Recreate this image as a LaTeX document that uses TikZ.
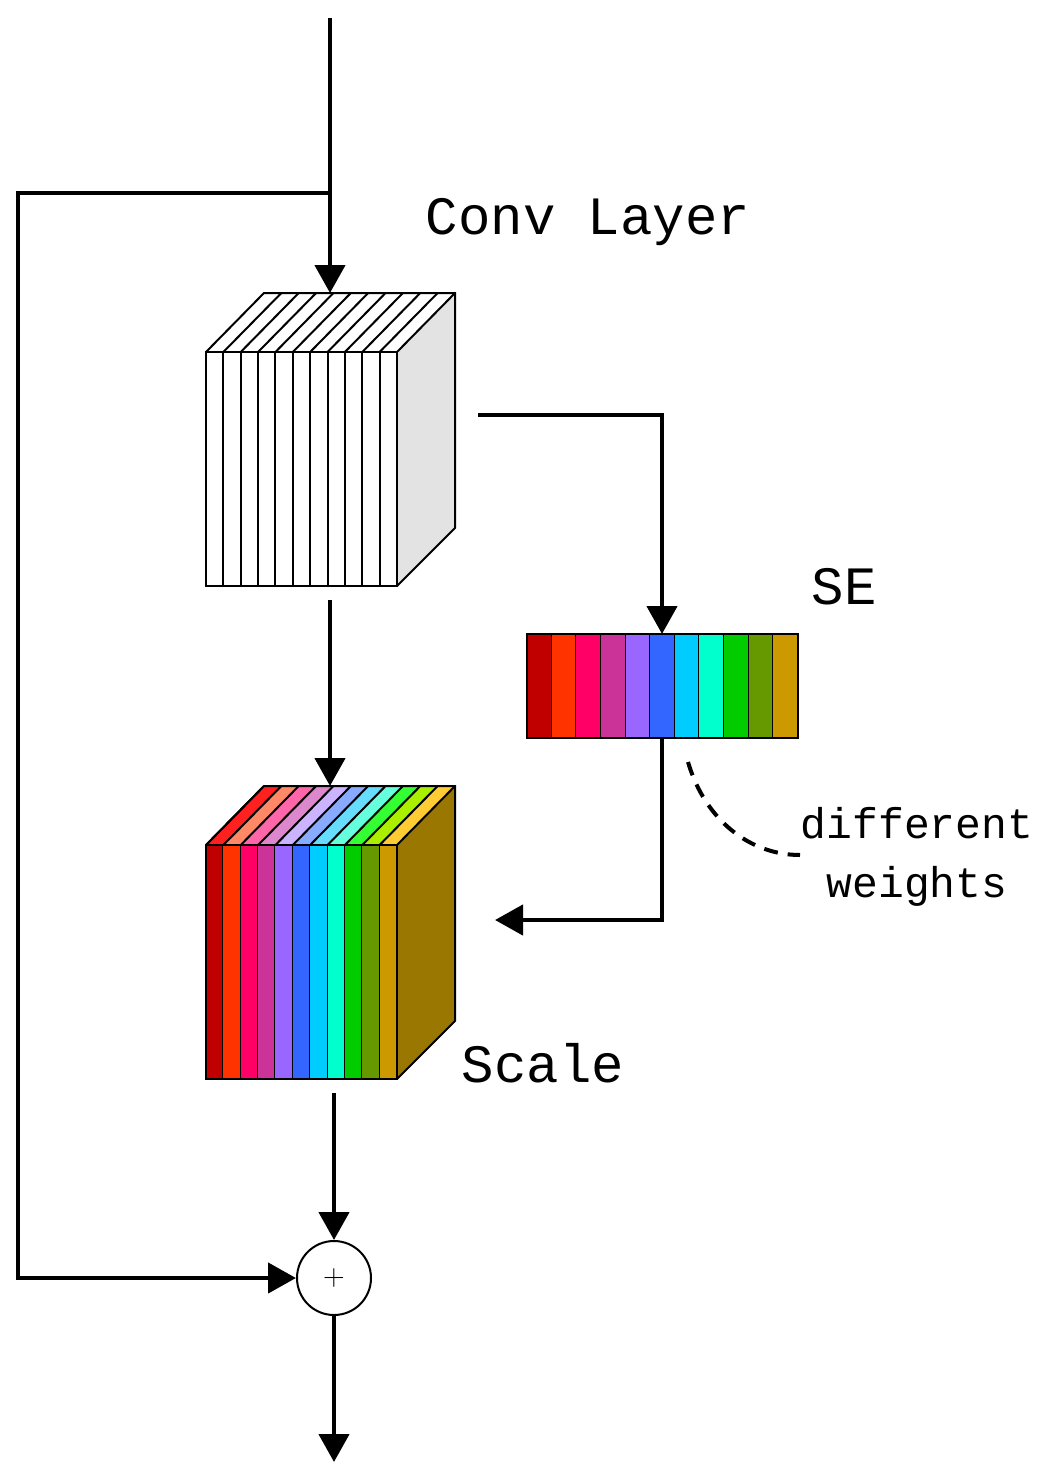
\documentclass[tikz,border=0pt]{standalone}
\usepackage{fontspec}
\setmonofont{Liberation Mono}
\usetikzlibrary{arrows.meta}
\definecolor{f1}{HTML}{C00000}\definecolor{f2}{HTML}{FF3300}\definecolor{f3}{HTML}{FF0066}
\definecolor{f4}{HTML}{CC3399}\definecolor{f5}{HTML}{9966FF}\definecolor{f6}{HTML}{3366FF}
\definecolor{f7}{HTML}{00CCFF}\definecolor{f8}{HTML}{00FFCC}\definecolor{f9}{HTML}{00CC00}
\definecolor{f10}{HTML}{669900}\definecolor{f11}{HTML}{CC9900}
\definecolor{t1}{HTML}{FF2020}\definecolor{t2}{HTML}{FF8866}\definecolor{t3}{HTML}{FF66AA}
\definecolor{t4}{HTML}{DD88CC}\definecolor{t5}{HTML}{CCB3FF}\definecolor{t6}{HTML}{88AAFF}
\definecolor{t7}{HTML}{66DDFF}\definecolor{t8}{HTML}{66FFDD}\definecolor{t9}{HTML}{33FF33}
\definecolor{t10}{HTML}{AAEE00}\definecolor{t11}{HTML}{FFCC33}
\definecolor{sidec}{HTML}{997700}
\begin{document}
\begin{tikzpicture}[x=1pt,y=-1pt,
  line/.style={line width=4.5pt},
  arr/.style={line/.try,line width=4.5pt,-{Triangle[length=28pt,width=30pt]}},
  face/.style={draw=black,line width=2pt},
  lab/.style={font=\ttfamily,inner sep=0pt}]
\useasboundingbox (0,0) rectangle (1050,1479);
% conv cube
\def\w{17.3636}
\fill[black!11] (397,352) -- (455,293) -- (455,528) -- (397,586) -- cycle;
\draw[face] (206,352) rectangle (397,586);
\draw[face] (206,352) -- (264,293) -- (455,293) -- (455,528) -- (397,586);
\draw[face] (397,352) -- (455,293);
\foreach \i in {1,...,10}{
  \draw[face] (206+\i*\w,352) -- (206+\i*\w,586);
  \draw[face] (206+\i*\w,352) -- (264+\i*\w,293);}
% scale cube
\fill[sidec] (397,845) -- (455,786) -- (455,1021) -- (397,1079) -- cycle;
\foreach \i in {1,...,11}{
  \fill[f\i] (206+\i*\w-\w,845) rectangle (206+\i*\w,1079);
  \fill[t\i] (206+\i*\w-\w,845) -- (264+\i*\w-\w,786) -- (264+\i*\w,786) -- (206+\i*\w,845) -- cycle;
  \draw[face] (206+\i*\w,845) -- (206+\i*\w,1079);
  \draw[face] (206+\i*\w-\w,845) -- (264+\i*\w-\w,786);}
\draw[face] (206,845) rectangle (397,1079);
\draw[face] (206,845) -- (264,786) -- (455,786) -- (455,1021) -- (397,1079);
\draw[face] (397,845) -- (455,786);
% SE bar
\def\s{24.636}
\foreach \i in {1,...,11}{
  \fill[f\i] (527+\i*\s-\s,634) rectangle (527+\i*\s,738);
  \draw[face] (527+\i*\s,634) -- (527+\i*\s,738);}
\draw[face] (527,634) rectangle (798,738);
% nodes/coords
\node[circle,draw,line width=2pt,minimum size=74pt,inner sep=0pt] (plus) at (334,1278) {\fontsize{30}{30}\selectfont +};
\coordinate (in) at (330,18);
\coordinate (br) at (330,193);
\coordinate (convtop) at (330,293);
\coordinate (convright) at (478,415);
\coordinate (setop) at (662,634);
\coordinate (convbot) at (330,600);
\coordinate (scaletop) at (330,786);
\coordinate (sebot) at (662,738);
\coordinate (scaleright) at (495,920);
\coordinate (scalebot) at (334,1093);
\coordinate (out) at (334,1462);
\draw[line] (in) -- (br);
\draw[arr] (br) -- (convtop);
\draw[arr,line cap=butt] (br) -- (18,193) -- (18,1278) -- (plus.west);
\draw[arr] (convright) -- (662,415) -- (setop);
\draw[arr] (convbot) -- (scaletop);
\draw[arr] (sebot) -- (662,920) -- (scaleright);
\draw[arr] (scalebot) -- (plus.north);
\draw[arr] (plus.south) -- (out);
\draw[line width=4pt,dash pattern=on 14pt off 10pt] (688,762) .. controls (705,820) and (750,855) .. (800,855);
% labels
\node[lab,font=\ttfamily\fontsize{54}{54}\selectfont] (cl) at (588,222) {Conv Layer};
\node[lab,font=\ttfamily\fontsize{54}{54}\selectfont] (se) at (844,587) {SE};
\node[lab,font=\ttfamily\fontsize{43}{43}\selectfont] (d1) at (917,823) {different};
\node[lab,font=\ttfamily\fontsize{43}{43}\selectfont] (d2) at (917,886) {weights};
\node[lab,font=\ttfamily\fontsize{54}{54}\selectfont] (sc) at (543,1063) {Scale};
\end{tikzpicture}
\end{document}
